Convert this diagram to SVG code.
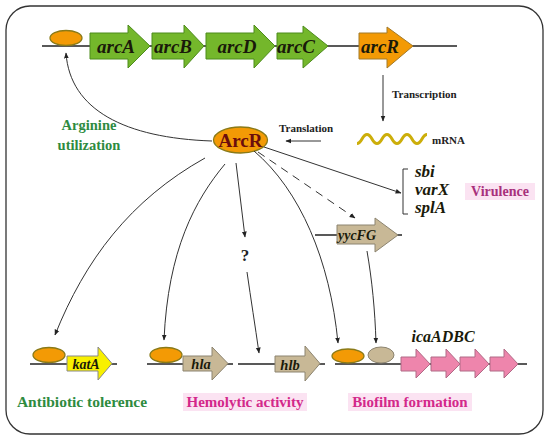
<svg xmlns="http://www.w3.org/2000/svg" width="550" height="441" viewBox="0 0 550 441" font-family="'Liberation Serif', 'Times New Roman', serif">
<defs>
<marker id="ah" viewBox="0 0 10 10" refX="9" refY="5" markerWidth="6" markerHeight="6" orient="auto" markerUnits="userSpaceOnUse">
<path d="M0,1 L10,5 L0,9 z" fill="#222"/>
</marker>
</defs>
<style>
.gi{font-weight:bold;font-style:italic;fill:#1a1a0a;}
.lb{font-weight:bold;}
.green{fill:#2e8b3f;}
.mag{fill:#d3288a;}
.dna{stroke:#222;stroke-width:1.3;fill:none;}
.con{stroke:#333;stroke-width:1;fill:none;marker-end:url(#ah);}
.ga{fill:#74b72b;stroke:#4d8c1c;stroke-width:1;}
.tan{fill:#c8b896;stroke:#8c8470;stroke-width:1;}
.pink{fill:#ee85ac;stroke:#b06a86;stroke-width:1;}
.oe{fill:#f39a05;stroke:#8a7a18;stroke-width:1.3;}
.hl{fill:#fbe3f2;}
</style>
<rect x="6" y="6" width="537" height="428" rx="24" ry="24" fill="#fff" stroke="#333" stroke-width="1.3"/>

<g id="top-operon">
<line class="dna" x1="42" y1="46" x2="457" y2="46"/>
<ellipse class="oe" cx="66" cy="38" rx="16" ry="7.5"/>
<polygon class="ga" points="90,33 128,33 128,25 150,46 128,68 128,59 90,59"/>
<text class="gi" x="116" y="53" font-size="19" text-anchor="middle">arcA</text>
<polygon class="ga" points="152,33 184,33 184,25 204,46 184,68 184,59 152,59"/>
<text class="gi" x="173" y="53" font-size="19" text-anchor="middle">arcB</text>
<polygon class="ga" points="206,33 254,33 254,25 275,46 254,68 254,59 206,59"/>
<text class="gi" x="237" y="53" font-size="19" text-anchor="middle">arcD</text>
<polygon class="ga" points="277,33 303,33 303,26 328,46 303,68 303,59 277,59"/>
<text class="gi" x="296" y="53" font-size="19" text-anchor="middle">arcC</text>
<polygon fill="#f39a05" stroke="#a27a2a" stroke-width="1" points="359,33 387,33 387,27 413,46 387,68 387,59 359,59"/>
<text class="gi" x="380" y="53" font-size="19" text-anchor="middle">arcR</text>
</g>

<g id="arginine-label">
<text class="lb green" x="89" y="130" font-size="14.5" text-anchor="middle">Arginine</text>
<text class="lb green" x="89" y="150" font-size="14.5" text-anchor="middle">utilization</text>
</g>

<g id="mrna">
<path d="M357,143.5 C362,143.5 362,134.5 367,134.5 S372,143.5 377,143.5 S382,134.5 387,134.5 S392,143.5 397,143.5 S402,134.5 407,134.5 S412,143.5 417,143.5 S422,134.5 427,134.5" fill="none" stroke="#ccae0a" stroke-width="3"/>
<text class="lb" x="432" y="144" font-size="11" fill="#222">mRNA</text>
</g>

<g id="labels-process">
<text class="lb" x="392" y="98" font-size="11" fill="#222">Transcription</text>
<text class="lb" x="279" y="132" font-size="11" fill="#222">Translation</text>
</g>

<g id="ArcR">
<ellipse class="oe" cx="240.5" cy="140" rx="27" ry="13"/>
<text class="lb" x="240.5" y="147" font-size="19" text-anchor="middle" fill="#6b0d0d">ArcR</text>
</g>

<g id="virulence">
<path d="M408,169 H403 V214 H408" fill="none" stroke="#333" stroke-width="1"/>
<text class="gi" x="415" y="177" font-size="17">sbi</text>
<text class="gi" x="415" y="195" font-size="17">varX</text>
<text class="gi" x="415" y="213" font-size="17">splA</text>
<rect class="hl" x="465" y="183" width="70" height="17"/>
<text class="lb" x="500" y="196" font-size="14" text-anchor="middle" fill="#a8307c">Virulence</text>
</g>

<g id="yycFG">
<line class="dna" x1="315" y1="235" x2="402" y2="235"/>
<polygon class="tan" points="337,225 375,225 375,218 398,235 375,252 375,244 337,244"/>
<text class="gi" x="357" y="240" font-size="14" text-anchor="middle">yycFG</text>
</g>

<g id="katA">
<line class="dna" x1="30" y1="364" x2="117" y2="364"/>
<ellipse class="oe" cx="49" cy="355" rx="16" ry="7.5"/>
<polygon fill="#f8f000" stroke="#888" stroke-width="1" points="67,356 98,356 98,347 112,363.5 98,380 98,371 67,371"/>
<text class="gi" x="86" y="368.5" font-size="14" text-anchor="middle">katA</text>
</g>

<g id="hla">
<line class="dna" x1="147" y1="364" x2="233" y2="364"/>
<ellipse class="oe" cx="166" cy="355" rx="16" ry="7.5"/>
<polygon class="tan" points="183,356 212,356 212,347 228,363.5 212,380 212,371 183,371"/>
<text class="gi" x="201" y="369" font-size="14.5" text-anchor="middle">hla</text>
</g>

<g id="hlb">
<line class="dna" x1="238" y1="364" x2="325" y2="364"/>
<polygon class="tan" points="275,356 305,356 305,346 320,363.5 305,381 305,372 275,372"/>
<text class="gi" x="290" y="369.5" font-size="14.5" text-anchor="middle">hlb</text>
</g>

<g id="icaADBC">
<line class="dna" x1="335" y1="364" x2="527" y2="364"/>
<ellipse class="oe" cx="348" cy="356" rx="16" ry="7"/>
<ellipse class="tan" cx="381" cy="355" rx="13" ry="8"/>
<polygon class="pink" points="401,357 416,357 416,349 430,364 416,378 416,371 401,371"/>
<polygon class="pink" points="431,357 446,357 446,349 460,364 446,378 446,371 431,371"/>
<polygon class="pink" points="460,357 475,357 475,349 489,364 475,378 475,371 460,371"/>
<polygon class="pink" points="490,357 504,357 504,349 518,364 504,378 504,371 490,371"/>
<text class="gi" x="443" y="342" font-size="16" text-anchor="middle">icaADBC</text>
</g>

<g id="bottom-labels">
<text class="lb green" x="82" y="407" font-size="15.5" text-anchor="middle">Antibiotic tolerence</text>
<rect class="hl" x="183" y="393" width="124" height="18"/>
<text class="lb mag" x="245" y="407" font-size="15" text-anchor="middle">Hemolytic activity</text>
<rect class="hl" x="348" y="393" width="124" height="18"/>
<text class="lb mag" x="410" y="407" font-size="15" text-anchor="middle">Biofilm formation</text>
<text class="lb" x="245" y="261" font-size="17" text-anchor="middle" fill="#222">?</text>
</g>

<g id="connectors">
<path class="con" d="M383,75 V121"/>
<path class="con" d="M321,141 H286"/>
<path class="con" d="M212,141 C125,138 70,110 66,53"/>
<path class="con" d="M264,147 L401,193"/>
<path class="con" d="M258,152 L355,218" stroke-dasharray="8,6"/>
<path class="con" d="M367,251 C372,280 375,310 376,343"/>
<path class="con" d="M254,151 C300,190 330,260 338,343"/>
<path class="con" d="M205,158 C130,200 85,260 55,335"/>
<path class="con" d="M225,164 C195,200 168,250 164,340"/>
<path class="con" d="M236,163 L245,237"/>
<path class="con" d="M247,272 C251,300 255,325 259,353"/>
</g>
</svg>
